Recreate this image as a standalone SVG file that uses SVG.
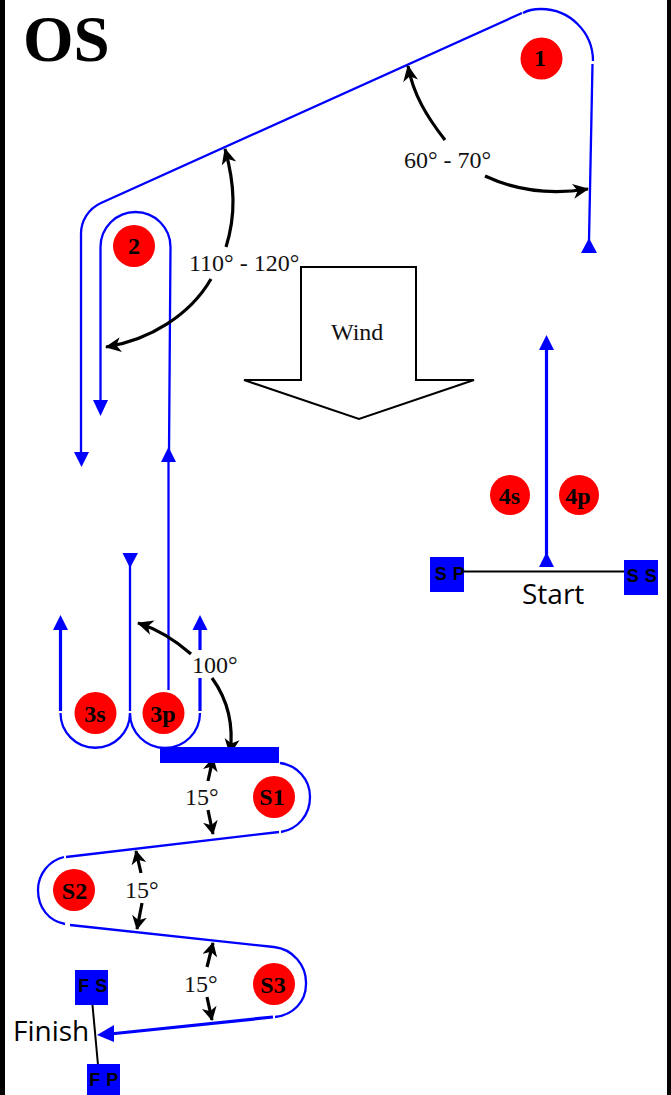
<svg xmlns="http://www.w3.org/2000/svg" width="671" height="1095" viewBox="0 0 671 1095">
<style>
.c{fill:#f00}
.cl{font:bold 24px "Liberation Serif",serif;text-anchor:middle;fill:#000}
.t{font:24px "Liberation Serif",serif;fill:#111}
.b{fill:none;stroke:#00f;stroke-width:2.300}
.b3{fill:none;stroke:#00f;stroke-width:3.200}
.tri{fill:#00f}
.a{fill:none;stroke:#000;stroke-width:3.200}
.sq{fill:#00f}
.sl{font:bold 18px "Liberation Sans",sans-serif;text-anchor:middle;fill:#000;letter-spacing:.5px}
.s{font:28px "Open Sans",sans-serif;fill:#000}
</style>
<defs>
<marker id="ah" markerUnits="userSpaceOnUse" markerWidth="20" markerHeight="20" refX="15" refY="8.500" orient="auto"><path d="M0 1 L16 8.500 L0 16 L4.500 8.500Z" fill="#000"/></marker>
<marker id="as" markerUnits="userSpaceOnUse" markerWidth="20" markerHeight="20" refX="13" refY="7.500" orient="auto"><path d="M0 0 L14 7.500 L0 15 L4 7.500Z" fill="#000"/></marker>
</defs>
<rect x="0" y="0" width="5" height="1095" fill="#000"/>
<rect x="667" y="0" width="4" height="1095" fill="#000"/>
<text x="23" y="61" style="font:bold 65px 'Liberation Serif',serif" fill="#000">OS</text>

<g id="connectors">
<path class="b" d="M81 235 A34 34 0 0 1 101 203 L522 13"/>
<path class="b" d="M523 13 C528 10 534 9 541 9 A52 52 0 0 1 593 61"/>
<path class="b" d="M592.500 64 L589 240"/>
<path class="b" d="M81 235 V455"/>
<polygon class="tri" points="74,452 89,452 81.500,467"/>
<path class="b" d="M100.500 247 A35 35 0 0 1 170.500 247 L169 452"/>
<path class="b" d="M100.500 247 V403"/>
<polygon class="tri" points="93,400 108,400 100.500,416"/>
<polygon class="tri" points="161,462 176,462 168.500,447"/>
<polygon class="tri" points="581,253 597,253 589,238"/>

<path class="b" d="M168.500 462 V690"/>
<path class="b" d="M130 565 V711"/>
<polygon class="tri" points="122.500,553 138,553 130,568"/>
<path class="b3" d="M60.500 628 V711"/>
<polygon class="tri" points="53,630 68,630 60.500,615"/>
<path class="b3" d="M200 626 V650 M200 678 V711"/>
<polygon class="tri" points="192.500,630 207.500,630 200,615"/>
<path class="b" d="M60.500 713 A34.500 34.500 0 0 0 130 713 A35 35 0 0 0 200 713"/>

<path class="b" d="M280 763 A34 34 0 0 1 310 797 C310 815 298 829 281 832"/>
<path class="b" d="M279 832 L66 857"/>
<path class="b" d="M64 857 A34 34 0 0 0 38 890 C38 908 49 921 65 924"/>
<path class="b" d="M70 925 L274 947 A36 36 0 0 1 306 984 C306 1002 293 1015 275 1017"/>
<path class="b3" d="M273 1017 L110 1034"/>
<polygon class="tri" points="97,1035 114,1025 114,1042"/>

<path class="b3" d="M546.500 347 V555"/>
<polygon class="tri" points="539,350 554,350 546.500,335"/>
<polygon class="tri" points="539,567 554,567 546.500,552"/>

<path d="M464 571.500 H625" stroke="#000" stroke-width="2" fill="none"/>
<path d="M92.500 1005 L98 1065" stroke="#000" stroke-width="2" fill="none"/>

<path class="a" marker-end="url(#ah)" d="M445 140 C427 117 413 94 408 66"/>
<path class="a" marker-end="url(#ah)" d="M485 176 C515 190 550 195 588 189"/>
<path class="a" marker-end="url(#ah)" d="M226 247 C236 215 235 185 225 149"/>
<path class="a" marker-end="url(#ah)" d="M211 279 C190 315 150 340 106 347"/>
<path class="a" marker-end="url(#ah)" d="M191 654 C175 640 160 630 138 623"/>
<path class="a" marker-end="url(#ah)" d="M212 678 C228 700 234 725 230 754"/>
<path class="a" marker-end="url(#as)" d="M208 781 L213 758"/>
<path class="a" marker-end="url(#as)" d="M208 810 L213 834"/>
<path class="a" marker-end="url(#as)" d="M141 873 L136 851"/>
<path class="a" marker-end="url(#as)" d="M142 903 L137 929"/>
<path class="a" marker-end="url(#as)" d="M207 967 L213 943"/>
<path class="a" marker-end="url(#as)" d="M207 997 L212 1020"/>
</g>

<g id="wind"><path d="M301 267 H416 V380 H474 L359 419 L244 380 H301Z" fill="#fff" stroke="#000" stroke-width="2"/>
<text class="t" x="331" y="340">Wind</text></g>

<g id="gate"><rect x="160" y="747" width="119" height="16" fill="#00f"/></g>

<g id="n1"><circle class="c" cx="541.500" cy="58.500" r="21"/><text class="cl" x="540" y="66">1</text></g>
<g id="n2"><circle class="c" cx="134" cy="246" r="21"/><text class="cl" x="134" y="254">2</text></g>
<g id="n3s"><circle class="c" cx="95.500" cy="713" r="21"/><text class="cl" x="95" y="722">3s</text></g>
<g id="n3p"><circle class="c" cx="163.500" cy="713" r="21"/><text class="cl" x="163" y="722">3p</text></g>
<g id="n4s"><circle class="c" cx="510" cy="495" r="20"/><text class="cl" x="509.500" y="504">4s</text></g>
<g id="n4p"><circle class="c" cx="579" cy="495" r="20"/><text class="cl" x="578" y="504">4p</text></g>
<g id="nS1"><circle class="c" cx="274" cy="797" r="21"/><text class="cl" x="272" y="805">S1</text></g>
<g id="nS2"><circle class="c" cx="74" cy="890" r="21"/><text class="cl" x="74.500" y="899">S2</text></g>
<g id="nS3"><circle class="c" cx="274" cy="984" r="21"/><text class="cl" x="273" y="993">S3</text></g>

<g id="sp"><rect class="sq" x="430" y="557" width="34" height="35"/><text class="sl" x="450" y="580">S P</text></g>
<g id="ss"><rect class="sq" x="624" y="560" width="34" height="35"/><text class="sl" x="642" y="582">S S</text></g>
<g id="fs"><rect class="sq" x="75" y="970" width="33" height="35"/><text class="sl" x="93" y="992">F S</text></g>
<g id="fp"><rect class="sq" x="87" y="1064" width="33" height="31"/><text class="sl" x="104" y="1086">F P</text></g>

<text class="t" x="404" y="168">60° - 70°</text>
<text class="t" x="189" y="271">110° - 120°</text>
<text class="t" x="192" y="673">100°</text>
<text class="t" x="185" y="805">15°</text>
<text class="t" x="125" y="898">15°</text>
<text class="t" x="184" y="992">15°</text>
<text class="s" x="522" y="604">Start</text>
<text class="s" x="13" y="1041">Finish</text>
</svg>
